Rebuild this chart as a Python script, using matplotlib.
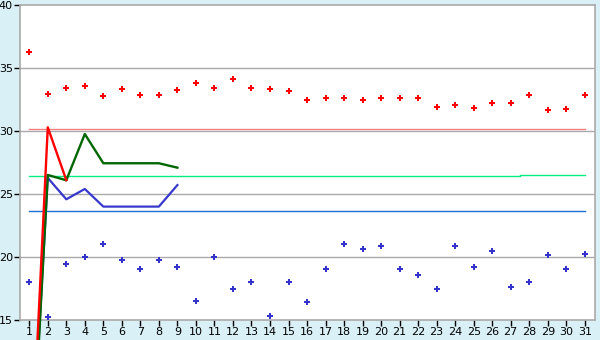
import matplotlib
matplotlib.use("Agg")
import matplotlib.pyplot as plt

days = list(range(1, 32))

red_points = [36.25, 32.9, 33.39, 33.6, 32.75, 33.3, 32.83, 32.83, 33.23, 33.8,
              33.39, 34.1, 33.39, 33.3, 33.17, 32.5, 32.6, 32.6, 32.43, 32.6,
              32.6, 32.6, 31.88, 32.04, 31.8, 32.2, 32.2, 32.83, 31.64, 31.72, 32.83]
blue_points = [18.0, 15.24, 19.42, 19.98, 21.0, 19.74, 19.02, 19.74, 19.18, 16.48,
               19.98, 17.5, 17.99, 15.29, 18.0, 16.4, 19.02, 21.0, 20.6, 20.85,
               19.02, 18.55, 17.44, 20.85, 19.18, 20.45, 17.6, 18.0, 20.13, 19.02, 20.21]

line_days_red = [1, 2, 3]
red_line = [0.0, 30.29, 26.1]
line_days = [1, 2, 3, 4, 5, 6, 7, 8, 9]
green_line = [-1.0, 26.51, 26.09, 29.76, 27.44, 27.44, 27.44, 27.44, 27.09]
blue_line = [0.0, 26.28, 24.58, 25.4, 24.0, 24.0, 24.0, 24.0, 25.71]

ref_red = 30.16
ref_green_a = 26.43
ref_green_b = 26.47
ref_blue = 23.63
ref_start, ref_split, ref_end = 1, 27.5, 31

y_ticks = [15, 20, 25, 30, 35, 40]

bg = "#d9f0f6"
fig = plt.figure(figsize=(6, 3.4), dpi=100, facecolor=bg)
ax = fig.add_axes([20/600, 20/340, 575/600, 315/340])
ax.set_facecolor("white")

ax.set_xlim(0.5, 31.55)
ax.set_ylim(15, 40)

for g in [20, 25, 30, 35]:
    ax.axhline(g, color="#aaaaaa", lw=1.0, zorder=1)

ax.plot([ref_start, ref_end], [ref_red, ref_red], color="#f08080", lw=1.0, zorder=2)
ax.plot([ref_start, ref_split], [ref_green_a, ref_green_a], color="#00ee80", lw=1.0, zorder=2)
ax.plot([ref_split, ref_end], [ref_green_b, ref_green_b], color="#00ee80", lw=1.0, zorder=2)
ax.plot([ref_start, ref_end], [ref_blue, ref_blue], color="#1e6fd0", lw=1.0, zorder=2)

ax.plot(days, red_points, linestyle="none", marker="P", ms=4.5, color="#ff0000",
        markeredgewidth=0, zorder=4)
ax.plot(days, blue_points, linestyle="none", marker="P", ms=4.5, color="#3333cc",
        markeredgewidth=0, zorder=4)

ax.plot(line_days, blue_line, color="#3838cc", lw=1.6, zorder=5, clip_on=False)
ax.plot(line_days, green_line, color="#006600", lw=1.7, zorder=6, clip_on=False)
ax.plot(line_days_red, red_line, color="#ff0000", lw=1.7, zorder=7, clip_on=False)

for s in ax.spines.values():
    s.set_color("#aaaaaa")
    s.set_linewidth(1.2)

ax.set_xticks(days)
ax.set_xticklabels([str(d) for d in days])
ax.set_yticks(y_ticks)
ax.set_yticklabels([str(t) for t in y_ticks])
ax.tick_params(axis="both", direction="out", length=4, width=1, color="black",
               labelsize=8)
ax.tick_params(axis="x", pad=1)
ax.tick_params(axis="y", pad=1)

fig.savefig("out.png", dpi=100, facecolor=bg)
